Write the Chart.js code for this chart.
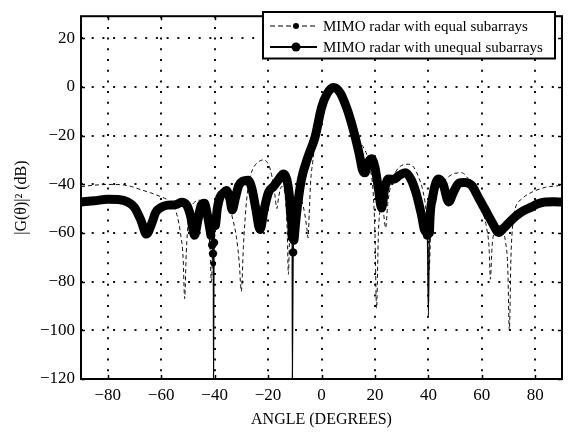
<!DOCTYPE html>
<html>
<head>
<meta charset="utf-8">
<script src="https://cdn.jsdelivr.net/npm/chart.js@4.4.1/dist/chart.umd.min.js"></script>
<style>
html,body{margin:0;padding:0;background:#fff;}
canvas{display:block;}
</style>
</head>
<body>
<canvas id="c" width="577" height="432"></canvas>
<script>
// ---- data ----
const seriesNames = ['MIMO radar with equal subarrays', 'MIMO radar with unequal subarrays'];

const equalAngles = [-90,-85,-80,-75,-71,-67.5,-64,-60.5,-57.5,-55.5,-54,-52.8,-51.8,-51.2,-50.6,-49.8,-48.5,-47,-45.6,-44,-42.8,-41.8,-41.2,-40.6,-39.5,-38,-36.5,-35,-33.5,-31.8,-30.8,-30,-29.2,-28.3,-27.3,-25.8,-23.8,-21.7,-19.8,-18.5,-17.5,-16.7,-16,-15,-14,-13.2,-12.8,-12.4,-11.9,-11,-9.8,-8.6,-7.3,-6.3,-5.5,-5,-4.6,-4,-3.3,-2.4,-1.2,0,2,4.5,7,9.4,11,12.6,14,15.5,17,18.3,19.3,20,20.6,21.3,22.3,23.2,24,24.8,26,28,30,32.5,34.5,36.3,38,39.2,39.9,40.3,40.8,41.8,43,45,47.5,50,52.5,55,57,58.8,60.5,61.8,62.7,63.2,63.8,64.8,66.3,67.8,68.9,69.7,70.3,70.9,71.6,72.5,75,78.7,83.8,88.8,90];
const equalGain   = [-41,-40.4,-40.1,-40.2,-41,-42.3,-43.5,-45,-46.5,-49,-53,-60,-70,-87,-68,-55,-49,-47,-46.6,-49,-55,-65,-80,-62,-51,-46,-44.5,-47,-53,-62,-72,-84,-65,-50,-40,-34,-31,-30,-32,-37,-44,-50,-45,-41,-42,-50,-60,-77,-60,-50,-45,-44,-47,-52,-58,-62,-52,-38,-31,-23,-16,-9,-3.2,-0.3,-2.3,-8,-13.5,-19,-22.5,-24.5,-28,-34,-43,-60,-91,-60,-50,-52,-58,-48,-40,-34.5,-32.3,-31.8,-33,-37,-43,-52,-65,-75,-62,-50,-44,-40,-37,-35.5,-35.3,-38,-42,-47.3,-52,-58,-66,-79,-66,-59,-57,-59,-64,-74,-100,-70,-56,-50,-46,-43.3,-41.3,-40.6,-40.5];

const unequalAngles = [-90,-85,-80,-76,-72.5,-70,-67.5,-65.5,-63.5,-62,-60,-57.5,-54.5,-52.4,-50.5,-49,-47.5,-46.3,-45,-43.8,-43,-42,-41.4,-40.9,-40.6,-40.5,-40.4,-40.2,-39.7,-39,-38,-36.7,-35.6,-34.3,-33.4,-32.3,-31,-29.5,-27.5,-26,-24.6,-23,-21.5,-19.8,-18,-16,-14.2,-13,-12,-11.3,-11,-10.9,-10.6,-10.3,-9.8,-9,-7.5,-5,-2.4,0,2,4.5,7,9.4,11,12.6,14.2,15.3,16.2,17.5,18.7,20,21.3,22.5,23.6,25,27,29,31.3,33.5,35.5,37.3,38.8,39.6,40,40.4,41.5,42.6,43.8,45.5,47.6,49.5,51.5,53.2,56.2,58.5,61.3,64,66.3,68.2,70,72.5,75.5,78.7,81,83.8,87,90];
const unequalGain   = [-47.3,-46.8,-46.2,-46.3,-47.3,-49.5,-55,-60.5,-56,-51.5,-49.5,-48.6,-48.4,-47.4,-48.5,-53,-61,-55,-48.6,-47.8,-51,-57,-61,-65,-68.5,-72.6,-120,-64,-57,-50,-45.3,-43.6,-42.6,-46,-50.6,-46,-40.6,-38.8,-38.4,-42,-50,-58.6,-50.5,-43.3,-41,-38,-35.8,-38,-45,-55,-62,-120,-68,-63,-57,-49,-38,-28.6,-20.6,-8.6,-3,-0.3,-2.5,-8.6,-14,-20.6,-28,-34,-35.3,-31,-29.5,-33,-42,-49.8,-42,-37.9,-38,-36.5,-35.3,-38,-44,-52,-59.3,-61,-94,-60,-46,-40,-37.9,-40,-47.3,-43,-39.5,-39.3,-40.5,-45,-50.6,-56,-59.8,-58,-56,-53.3,-51,-49.3,-48,-47.3,-47.2,-47.3];

const xTicks = [-80,-60,-40,-20,0,20,40,60,80];
const yTicks = [-120,-100,-80,-60,-40,-20,0,20];
const xTitle = 'ANGLE (DEGREES)';
const yTitle = '|G(\u03B8)|\u00B2 (dB)';

// ---- chart ----
const FONT = '"Liberation Serif", "Times New Roman", serif';
const toPts = (xs, ys) => xs.map((x, i) => ({x: x, y: ys[i]}));
const fmt = v => String(v).replace('-', '\u2212');
const THIN = -63.5;

const framePlugin = {
  id: 'frame',
  afterDatasetsDraw(chart) {
    const {ctx, chartArea: a, scales} = chart;
    ctx.save();
    ctx.strokeStyle = '#000';
    ctx.lineWidth = 2;
    ctx.strokeRect(a.left, a.top, a.right - a.left, a.bottom - a.top);
    ctx.lineWidth = 1.5;
    ctx.beginPath();
    xTicks.forEach(v => {
      const px = Math.round(scales.x.getPixelForValue(v)) + 0.5;
      ctx.moveTo(px, a.top); ctx.lineTo(px, a.top + 4);
      ctx.moveTo(px, a.bottom); ctx.lineTo(px, a.bottom - 4);
    });
    yTicks.forEach(v => {
      const py = Math.round(scales.y.getPixelForValue(v)) + 0.5;
      ctx.moveTo(a.left, py); ctx.lineTo(a.left + 4, py);
      ctx.moveTo(a.right, py); ctx.lineTo(a.right - 4, py);
    });
    ctx.stroke();
    ctx.restore();
  }
};

const legendPlugin = {
  id: 'boxLegend',
  afterDraw(chart) {
    const ctx = chart.ctx;
    const x0 = 263, y0 = 12, w = 292, h = 46.5;
    ctx.save();
    ctx.fillStyle = '#fff';
    ctx.fillRect(x0, y0, w, h);
    ctx.strokeStyle = '#000';
    ctx.lineWidth = 2;
    ctx.strokeRect(x0, y0, w, h);
    const rows = [26, 47];
    ctx.lineWidth = 1.2;
    ctx.setLineDash([5, 3]);
    ctx.beginPath(); ctx.moveTo(270, rows[0]); ctx.lineTo(317, rows[0]); ctx.stroke();
    ctx.setLineDash([]);
    ctx.fillStyle = '#000';
    ctx.beginPath(); ctx.arc(296, rows[0], 3, 0, Math.PI * 2); ctx.fill();
    ctx.lineWidth = 2;
    ctx.beginPath(); ctx.moveTo(270, rows[1]); ctx.lineTo(317, rows[1]); ctx.stroke();
    ctx.beginPath(); ctx.arc(296, rows[1], 4.5, 0, Math.PI * 2); ctx.fill();
    ctx.font = '15px ' + FONT;
    ctx.textBaseline = 'middle';
    ctx.textAlign = 'left';
    ctx.fillText(seriesNames[0], 323, rows[0] + 1);
    ctx.fillText(seriesNames[1], 323, rows[1] + 1);
    ctx.restore();
  }
};

const gridCommon = {
  color: '#111',
  lineWidth: 2,
  drawTicks: false
};

new Chart(document.getElementById('c').getContext('2d'), {
  type: 'line',
  data: {
    datasets: [
      {
        label: seriesNames[1],
        data: toPts(unequalAngles, unequalGain),
        borderColor: '#000',
        backgroundColor: '#000',
        borderWidth: 9,
        borderJoinStyle: 'round',
        borderCapStyle: 'round',
        cubicInterpolationMode: 'monotone',
        pointRadius: c => {
          const y = c.raw ? c.raw.y : 0;
          if (y <= THIN && y >= -80) return y < -70 ? 2.8 : 4.2;
          return 0;
        },
        pointBorderWidth: 0,
        pointBackgroundColor: '#000',
        segment: {
          borderWidth: c => (c.p0.parsed.y <= THIN || c.p1.parsed.y <= THIN) ? 1.2 : 9
        },
        order: 0
      },
      {
        label: seriesNames[0],
        data: toPts(equalAngles, equalGain),
        borderColor: '#111',
        borderWidth: 1,
        borderDash: [4, 3],
        pointRadius: 0,
        cubicInterpolationMode: 'monotone',
        order: 1
      }
    ]
  },
  options: {
    responsive: false,
    animation: false,
    devicePixelRatio: 1,
    layout: { padding: { top: 5, right: 15, bottom: 0, left: 0 } },
    plugins: { legend: { display: false }, tooltip: { enabled: false } },
    scales: {
      x: {
        type: 'linear',
        min: -90, max: 90,
        afterBuildTicks: s => { s.ticks = xTicks.map(v => ({value: v})); },
        afterFit: s => { s.height = 53; },
        grid: gridCommon,
        border: { display: false, dash: [2, 8.7] },
        ticks: { padding: 6, color: '#000', font: { family: FONT, size: 17 }, callback: v => fmt(v), maxRotation: 0, autoSkip: false },
        title: { display: true, text: xTitle, color: '#000', font: { family: FONT, size: 16 }, padding: { top: 0, bottom: 3 } }
      },
      y: {
        type: 'linear',
        min: -120, max: 29,
        afterBuildTicks: s => { s.ticks = yTicks.map(v => ({value: v})); },
        afterFit: s => { s.width = 81; },
        grid: gridCommon,
        border: { display: false, dash: [2, 8.7] },
        ticks: { padding: 6, color: '#000', font: { family: FONT, size: 17 }, callback: v => fmt(v), autoSkip: false },
        title: { display: true, text: yTitle, color: '#000', font: { family: FONT, size: 16 }, padding: { top: 12, bottom: 0 } }
      }
    }
  },
  plugins: [framePlugin, legendPlugin]
});
</script>
</body>
</html>
